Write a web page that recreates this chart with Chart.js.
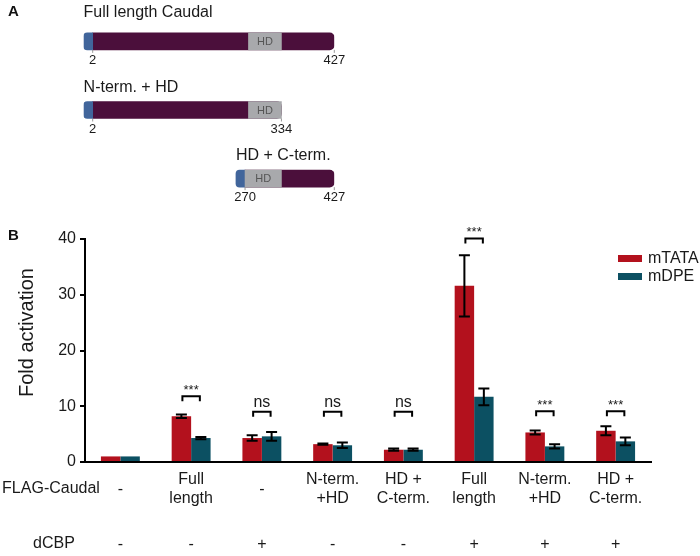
<!DOCTYPE html>
<html>
<head>
<meta charset="utf-8">
<script src="https://cdn.jsdelivr.net/npm/chart.js@4.4.0/dist/chart.umd.min.js"></script>
<style>
  html, body { margin: 0; padding: 0; background: #fff; }
  #wrap { position: relative; width: 700px; height: 556px; overflow: hidden; font-family: "Liberation Sans", Arial, sans-serif; }
  #domainBox { position: absolute; left: 0; top: 0; width: 700px; height: 214px; }
  #barBox { position: absolute; left: 0; top: 214px; width: 700px; height: 342px; }
  .panel { position: absolute; font-weight: bold; font-size: 15px; color: #111; }
</style>
</head>
<body>
<div id="wrap">
  <div id="domainBox"><canvas id="domainChart"></canvas></div>
  <div id="barBox"><canvas id="barChart"></canvas></div>
  <div class="panel" style="left:8px;top:2px;">A</div>
  <div class="panel" style="left:8px;top:226px;">B</div>
</div>
<script>
// Panel A: constructs (amino acid positions)
const constructNames = ['Full length Caudal', 'N-term. + HD', 'HD + C-term.'];
const constructStart = [2, 2, 270];
const constructEnd = [427, 334, 427];
const hdRange = [[276, 334], [276, 334], [270, 334]];
const tagLen = 16;

// Panel B: fold activation
const flagLabels = ['-', ['Full', 'length'], '-', ['N-term.', '+HD'], ['HD +', 'C-term.'], ['Full', 'length'], ['N-term.', '+HD'], ['HD +', 'C-term.']];
const cbpLabels = ['-', '-', '+', '-', '-', '+', '+', '+'];
const mTATA = [1, 8.2, 4.3, 3.2, 2.2, 31.6, 5.3, 5.6];
const mTATAErr = [0, 0.3, 0.5, 0.1, 0.2, 5.5, 0.35, 0.8];
const mDPE = [1, 4.3, 4.6, 3.0, 2.2, 11.7, 2.8, 3.7];
const mDPEErr = [0, 0.2, 0.8, 0.5, 0.2, 1.5, 0.4, 0.7];
const sigLabels = ['', '***', 'ns', 'ns', 'ns', '***', '***', '***'];
const sigLevel = [0, 11.8, 9.0, 9.0, 9.0, 40.1, 9.1, 9.1];
const yTicks = [0, 10, 20, 30, 40];

const FONT = '"Liberation Sans", Arial, sans-serif';
Chart.defaults.font.family = FONT;
Chart.defaults.color = '#1a1a1a';

const RED = '#b3111d';
const TEAL = '#0c5062';
const titleGap = [16, 10, 10];

// labels for the domain diagram
const domainLabels = {
  id: 'domainLabels',
  afterDatasetsDraw(chart) {
    const ctx = chart.ctx;
    const x = chart.scales.x, y = chart.scales.y;
    ctx.save();
    constructNames.forEach((name, i) => {
      const cy = y.getPixelForValue(i);
      const top = cy - 8.5, bottom = cy + 8.5;
      const xs = x.getPixelForValue(constructStart[i]);
      const xe = x.getPixelForValue(constructEnd[i]);
      const x0 = x.getPixelForValue(constructStart[i] - tagLen);

      ctx.fillStyle = '#1a1a1a';
      ctx.font = '16px ' + FONT;
      ctx.textAlign = 'left';
      ctx.textBaseline = 'alphabetic';
      ctx.fillText(name, x0, top - titleGap[i]);

      // position ticks
      ctx.strokeStyle = '#999';
      ctx.lineWidth = 1;
      [xs, xe].forEach(px => {
        ctx.beginPath();
        ctx.moveTo(px, bottom);
        ctx.lineTo(px, bottom + 3);
        ctx.stroke();
      });

      ctx.font = '13px ' + FONT;
      ctx.textAlign = 'center';
      ctx.fillText(String(constructStart[i]), xs, bottom + 14);
      ctx.fillText(String(constructEnd[i]), xe, bottom + 14);

      const hx = (x.getPixelForValue(hdRange[i][0]) + x.getPixelForValue(hdRange[i][1])) / 2;
      ctx.fillStyle = '#555';
      ctx.font = '11px ' + FONT;
      ctx.textBaseline = 'middle';
      ctx.fillText('HD', hx, cy + 0.5);
    });
    ctx.restore();
  }
};

new Chart(document.getElementById('domainChart'), {
  type: 'bar',
  data: {
    labels: constructNames,
    datasets: [
      { label: 'HD', data: hdRange, backgroundColor: '#a8a9ac', borderRadius: 0, order: 0 },
      { label: 'tag', data: constructStart.map(s => [s - tagLen, s]), backgroundColor: '#41659b',
        borderRadius: { topLeft: 4, bottomLeft: 4 }, order: 1 },
      { label: 'body', data: constructStart.map((s, i) => [s, constructEnd[i]]), backgroundColor: '#4b0f3b',
        borderRadius: { topRight: 5, bottomRight: 5 }, order: 2 }
    ]
  },
  options: {
    indexAxis: 'y',
    responsive: true,
    maintainAspectRatio: false,
    animation: false,
    datasets: { bar: { grouped: false, barThickness: 17, borderSkipped: false, borderWidth: 0 } },
    layout: { padding: { left: 83.6, right: 365.7, top: 7, bottom: 1 } },
    scales: {
      x: { type: 'linear', display: false, min: -14, max: 427 },
      y: { display: false }
    },
    plugins: { legend: { display: false }, tooltip: { enabled: false } }
  },
  plugins: [domainLabels]
});

// error bars, brackets, legend and row titles for panel B
const barExtras = {
  id: 'barExtras',
  afterDatasetsDraw(chart) {
    const ctx = chart.ctx;
    const yScale = chart.scales.y;
    const area = chart.chartArea;
    const errs = [mTATAErr, mDPEErr];
    ctx.save();
    ctx.strokeStyle = '#000';
    ctx.lineWidth = 2;

    // error bars
    chart.data.datasets.forEach((ds, d) => {
      const meta = chart.getDatasetMeta(d);
      ds.data.forEach((v, i) => {
        const e = errs[d][i];
        if (!e) return;
        const bx = meta.data[i].x;
        const yt = yScale.getPixelForValue(v + e);
        const yb = yScale.getPixelForValue(v - e);
        ctx.beginPath();
        ctx.moveTo(bx, yt); ctx.lineTo(bx, yb);
        ctx.moveTo(bx - 5.5, yt); ctx.lineTo(bx + 5.5, yt);
        ctx.moveTo(bx - 5.5, yb); ctx.lineTo(bx + 5.5, yb);
        ctx.stroke();
      });
    });

    // significance brackets
    const m0 = chart.getDatasetMeta(0), m1 = chart.getDatasetMeta(1);
    sigLabels.forEach((s, i) => {
      if (!s) return;
      const xa = m0.data[i].x + 1, xb = m1.data[i].x - 1;
      const yy = yScale.getPixelForValue(sigLevel[i]);
      ctx.beginPath();
      ctx.moveTo(xa, yy + 5); ctx.lineTo(xa, yy); ctx.lineTo(xb, yy); ctx.lineTo(xb, yy + 5);
      ctx.stroke();
      ctx.fillStyle = '#1a1a1a';
      ctx.textAlign = 'center';
      ctx.textBaseline = 'middle';
      if (s === 'ns') {
        ctx.font = '16px ' + FONT;
        ctx.fillText(s, (xa + xb) / 2, yy - 9);
      } else {
        ctx.font = '13px ' + FONT;
        ctx.fillText(s, (xa + xb) / 2, yy - 6);
      }
    });

    // legend
    const lx = area.right - 33, ly = area.top + 16;
    chart.data.datasets.forEach((ds, d) => {
      ctx.fillStyle = ds.backgroundColor;
      ctx.fillRect(lx, ly + d * 18, 24, 7);
      ctx.fillStyle = '#1a1a1a';
      ctx.font = '16px ' + FONT;
      ctx.textAlign = 'left';
      ctx.textBaseline = 'middle';
      ctx.fillText(ds.label, lx + 30, ly + d * 18 + 3.5);
    });

    // axis title and row titles
    ctx.fillStyle = '#1a1a1a';
    ctx.font = '20px ' + FONT;
    ctx.textAlign = 'center';
    ctx.textBaseline = 'middle';
    ctx.save();
    ctx.translate(27, (area.top + area.bottom) / 2 - 18);
    ctx.rotate(-Math.PI / 2);
    ctx.fillText('Fold activation', 0, 0);
    ctx.restore();

    ctx.font = '16px ' + FONT;
    ctx.fillText('FLAG-Caudal', 51, chart.scales.x.top + 27);
    ctx.fillText('dCBP', 54, chart.scales.x2.top + 32);
    ctx.restore();
  }
};

new Chart(document.getElementById('barChart'), {
  type: 'bar',
  data: {
    labels: flagLabels,
    datasets: [
      { label: 'mTATA', data: mTATA, backgroundColor: RED },
      { label: 'mDPE', data: mDPE, backgroundColor: TEAL }
    ]
  },
  options: {
    responsive: true,
    maintainAspectRatio: false,
    animation: false,
    datasets: { bar: { categoryPercentage: 0.55, barPercentage: 1.0, borderWidth: 0 } },
    layout: { padding: { top: 25, right: 49, bottom: 0, left: 0 } },
    scales: {
      x: {
        offset: true,
        grid: { display: false, drawTicks: false },
        border: { color: '#000', width: 2 },
        ticks: { font: { size: 16, lineHeight: 1.15 }, color: '#1a1a1a', padding: 18, crossAlign: 'center', autoSkip: false, maxRotation: 0 },
        afterFit: (axis) => { axis.height = 50; }
      },
      x2: {
        type: 'category',
        labels: cbpLabels,
        position: 'bottom',
        offset: true,
        grid: { display: false, drawTicks: false },
        border: { display: false },
        ticks: { font: { size: 16 }, color: '#1a1a1a', padding: 23, autoSkip: false, maxRotation: 0 },
        afterFit: (axis) => { axis.height = 44; }
      },
      y: {
        min: 0,
        max: 40,
        afterBuildTicks: (axis) => { axis.ticks = yTicks.map(v => ({ value: v })); },
        ticks: { font: { size: 16 }, color: '#1a1a1a', padding: 4 },
        grid: { drawOnChartArea: false, drawTicks: true, tickLength: 5, color: '#000', lineWidth: 2 },
        border: { color: '#000', width: 2 },
        afterFit: (axis) => { axis.width = 85; }
      }
    },
    plugins: { legend: { display: false }, tooltip: { enabled: false } }
  },
  plugins: [barExtras]
});
</script>
</body>
</html>
